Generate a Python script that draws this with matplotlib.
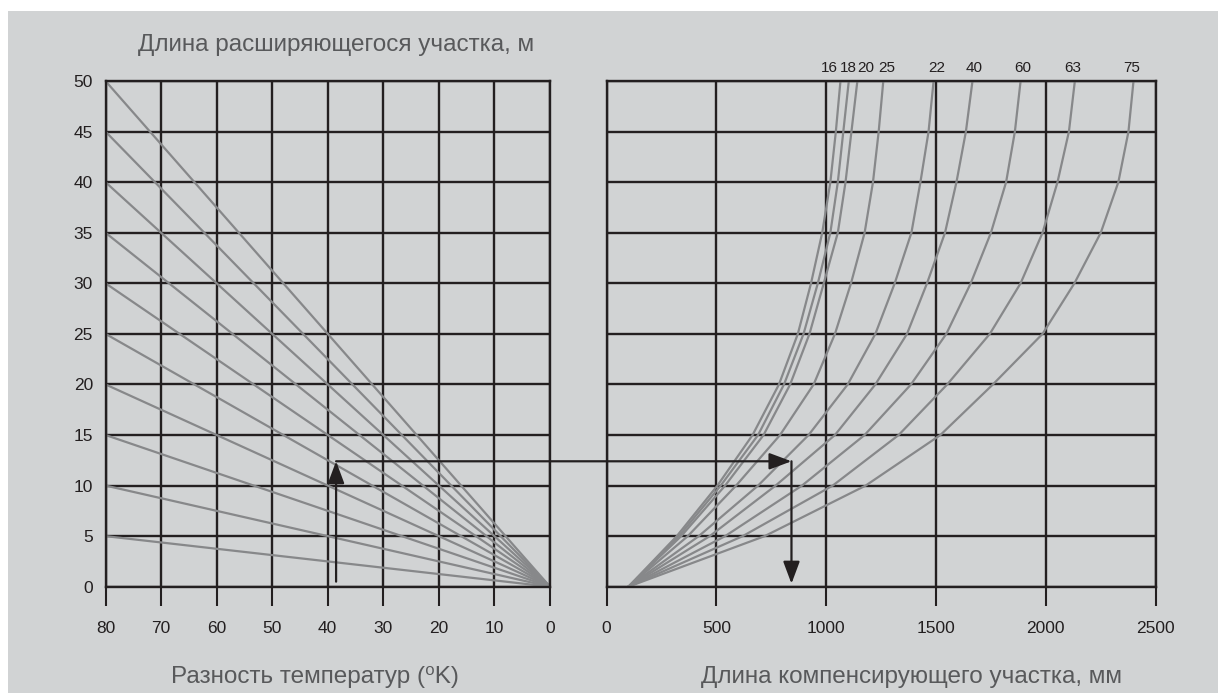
import numpy as np
import matplotlib.pyplot as plt
from matplotlib.patches import Rectangle, ConnectionPatch

plt.rcParams['font.family'] = ['Liberation Sans', 'DejaVu Sans']

# left panel: temperature difference vs expansion
dt_ticks = [80, 70, 60, 50, 40, 30, 20, 10, 0]
dl_ticks = [0, 5, 10, 15, 20, 25, 30, 35, 40, 45, 50]
dt_max = 80
line_ends = [5, 10, 15, 20, 25, 30, 35, 40, 45, 50]   # value of each line at dt = 80

# right panel: compensating length curves (x read at each y level)
comp_y = [0, 5, 10, 15, 20, 25, 30, 35, 40, 45, 50]
c16 = [100, 320, 505, 665, 785, 871, 931, 982, 1019, 1044, 1065]
c18 = [100, 330, 520, 690, 808, 897, 962, 1019, 1053, 1078, 1103]
c20 = [100, 340, 540, 715, 836, 924, 989, 1053, 1088, 1115, 1142]
c25 = [100, 370, 590, 790, 943, 1040, 1113, 1175, 1213, 1239, 1260]
c22 = [100, 420, 690, 920, 1098, 1224, 1312, 1388, 1429, 1466, 1489]
c40 = [100, 470, 770, 1040, 1224, 1368, 1459, 1541, 1593, 1636, 1666]
c60 = [100, 540, 890, 1175, 1386, 1547, 1658, 1750, 1819, 1859, 1885]
c63 = [100, 620, 1030, 1330, 1551, 1745, 1885, 1985, 2053, 2105, 2132]
c75 = [100, 720, 1180, 1520, 1759, 1985, 2130, 2250, 2330, 2376, 2399]
comp_curves = [c16, c18, c20, c25, c22, c40, c60, c63, c75]
diam_labels = ['16', '18', '20', '25', '22', '40', '60', '63', '75']
ls_ticks = [0, 500, 1000, 1500, 2000, 2500]

# worked example drawn with arrows
example_dt = 38.5
example_dl = 12.4
example_ls = 842

# label positions above the curves
label_x = [1015, 1099, 1181, 1277, 1503, 1673, 1896, 2124, 2392]

dark = '#231f20'
curve_col = '#87888a'
bg = '#d1d3d4'
text_col = '#58595b'

fig = plt.figure(figsize=(12.18, 6.93), dpi=100, facecolor='white')
fig.patches.append(Rectangle((8 / 1218, 0), 1, 1 - 11 / 693, transform=fig.transFigure,
                             facecolor=bg, edgecolor='none', zorder=-10))

ax1 = fig.add_axes([105.5 / 1218, 106.3 / 693, 444.5 / 1218, 505.7 / 693])
ax2 = fig.add_axes([606.5 / 1218, 106.3 / 693, 549.2 / 1218, 505.7 / 693])

for ax in (ax1, ax2):
    ax.set_facecolor(bg)
    ax.set_axisbelow(True)
    ax.grid(True, color=dark, lw=1.7)
    for s in ax.spines.values():
        s.set_color(dark)
        s.set_linewidth(1.7)
    ax.set_ylim(0, 50)
    ax.set_yticks(dl_ticks)
    ax.tick_params(axis='x', direction='out', length=14, width=1.5, color=dark,
                   pad=10.5, labelsize=12.5, labelcolor=dark)
    ax.tick_params(axis='y', length=0, pad=9, labelsize=12.5, labelcolor=dark)

# left panel
ax1.set_xlim(dt_max, 0)
ax1.set_xticks(dt_ticks)
for L in line_ends:
    ax1.plot([dt_max, 0], [L, 0], color=curve_col, lw=1.6, solid_capstyle='round')

# right panel
ax2.set_xlim(0, 2500)
ax2.set_xticks(ls_ticks)
ax2.tick_params(axis='y', labelleft=False)
for xs, lbl, lx in zip(comp_curves, diam_labels, label_x):
    ax2.plot(xs, comp_y, color=curve_col, lw=1.6, solid_joinstyle='round')
    ax2.annotate(lbl, xy=(lx, 50), xytext=(0, 9.5), textcoords='offset points',
                 ha='center', va='center', fontsize=11, color=dark, annotation_clip=False)

# example arrows
head = '-|>,head_length=0.75,head_width=0.28'
ax1.annotate('', xy=(example_dt, example_dl), xytext=(example_dt, 0.5),
             arrowprops=dict(arrowstyle=head, color=dark, lw=1.6, mutation_scale=18,
                             shrinkA=0, shrinkB=0))
con = ConnectionPatch(xyA=(example_dt, example_dl), coordsA=ax1.transData,
                      xyB=(example_ls, example_dl), coordsB=ax2.transData,
                      arrowstyle=head, color=dark, lw=1.6, mutation_scale=18)
fig.add_artist(con)
ax2.annotate('', xy=(example_ls, 0.3), xytext=(example_ls, example_dl),
             arrowprops=dict(arrowstyle=head, color=dark, lw=1.6, mutation_scale=18,
                             shrinkA=0, shrinkB=0))

# titles
fig.text(336.5 / 1218, 1 - 45 / 693, 'Длина расширяющегося участка, м',
         ha='center', va='center', fontsize=17.5, color=text_col)
fig.text(314.8 / 1218, 1 - 676.7 / 693, 'Разность температур (⁰K)',
         ha='center', va='center', fontsize=17.5, color=text_col)
fig.text(911.6 / 1218, 1 - 676.7 / 693, 'Длина компенсирующего участка, мм',
         ha='center', va='center', fontsize=17.5, color=text_col)

fig.savefig('out.png', dpi=100, facecolor='white')
